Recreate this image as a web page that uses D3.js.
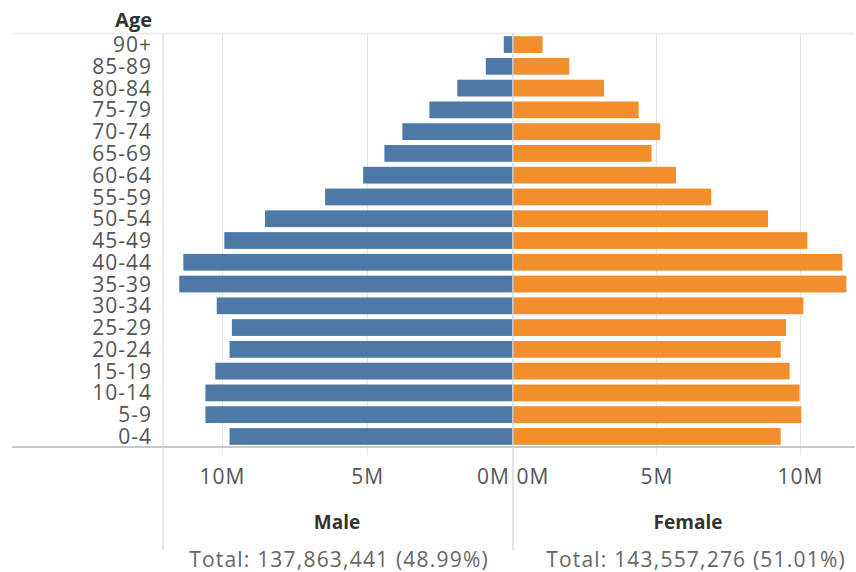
<!DOCTYPE html>
<html>
<head>
<meta charset="utf-8">
<script src="https://cdn.jsdelivr.net/npm/d3@7"></script>
<style>
  body { margin: 0; background: #fff; }
  svg { display: block; font-family: "Open Sans", sans-serif; }
</style>
</head>
<body>
<svg width="856" height="572"></svg>
<script>
window.onload = () => {

  const ages = ['90+', '85-89', '80-84', '75-79', '70-74', '65-69', '60-64', '55-59', '50-54',
    '45-49', '40-44', '35-39', '30-34', '25-29', '20-24', '15-19', '10-14', '5-9', '0-4'];
  const male = [0.30, 0.92, 1.90, 2.86, 3.79, 4.41, 5.14, 6.45, 8.52,
    9.92, 11.33, 11.47, 10.18, 9.66, 9.74, 10.23, 10.57, 10.57, 9.74].map(v => v * 1e6);
  const female = [1.03, 1.96, 3.17, 4.38, 5.13, 4.83, 5.68, 6.91, 8.89,
    10.26, 11.48, 11.62, 10.12, 9.52, 9.33, 9.64, 9.99, 10.05, 9.33].map(v => v * 1e6);
  const ticks = [0, 5e6, 10e6];
  const totals = ['Total: 137,863,441 (48.99%)', 'Total: 143,557,276 (51.01%)'];

  const top = 34;
  const bottom = 447;
  const left = 163;
  const mid = 512.5;
  const right = 855;

  const svg = d3.select('svg');

  const y = d3.scaleBand().domain(ages).range([top, bottom]).paddingInner(0.23).paddingOuter(0.1);
  const xMale = d3.scaleLinear().domain([0, 12.03e6]).range([mid, left]);
  const xFemale = d3.scaleLinear().domain([0, 11.92e6]).range([mid + 0.5, right]);

  const fmt = d => (d / 1e6) + 'M';

  // gridlines
  [xMale, xFemale].forEach(x => {
    svg.append('g')
      .selectAll('line')
      .data(ticks.filter(t => t > 0))
      .enter()
      .append('line')
      .attr('x1', d => Math.round(x(d)) + 0.5)
      .attr('x2', d => Math.round(x(d)) + 0.5)
      .attr('y1', top)
      .attr('y2', bottom + 8)
      .attr('stroke', '#e6e6e6')
      .attr('stroke-width', 1);
  });

  // bars
  svg.append('g')
    .selectAll('rect')
    .data(ages)
    .enter()
    .append('rect')
    .attr('x', (d, i) => xMale(male[i]))
    .attr('y', d => y(d))
    .attr('width', (d, i) => xMale(0) - xMale(male[i]))
    .attr('height', y.bandwidth())
    .attr('fill', '#4e79a7');

  svg.append('g')
    .selectAll('rect')
    .data(ages)
    .enter()
    .append('rect')
    .attr('x', xFemale(0))
    .attr('y', d => y(d))
    .attr('width', (d, i) => xFemale(female[i]) - xFemale(0))
    .attr('height', y.bandwidth())
    .attr('fill', '#f28e2b');

  // frame lines
  svg.append('line').attr('x1', 12).attr('x2', right).attr('y1', top - 0.5).attr('y2', top - 0.5)
    .attr('stroke', '#ececec').attr('stroke-width', 1.5);
  svg.append('line').attr('x1', 12).attr('x2', right).attr('y1', bottom).attr('y2', bottom)
    .attr('stroke', '#c8c8c8').attr('stroke-width', 2);
  svg.append('line').attr('x1', left).attr('x2', left).attr('y1', top).attr('y2', 550)
    .attr('stroke', '#d9d9d9').attr('stroke-width', 1.2);
  svg.append('line').attr('x1', mid + 0.5).attr('x2', mid + 0.5).attr('y1', top).attr('y2', 550)
    .attr('stroke', '#d0d0d0').attr('stroke-width', 1.2);

  // age labels
  svg.append('text')
    .attr('x', 152).attr('y', 27)
    .attr('text-anchor', 'end')
    .attr('font-size', 20).attr('font-weight', 'bold').attr('fill', '#333')
    .text('Age');

  svg.append('g')
    .selectAll('text')
    .data(ages)
    .enter()
    .append('text')
    .attr('x', 152)
    .attr('y', d => y(d) + y.bandwidth() / 2)
    .attr('dy', '0.36em')
    .attr('text-anchor', 'end')
    .attr('font-size', 21)
    .attr('letter-spacing', 1)
    .attr('fill', '#555')
    .text(d => d);

  // axes
  const axisMale = svg.append('g')
    .attr('transform', 'translate(0,' + bottom + ')')
    .call(d3.axisBottom(xMale).tickValues(ticks).tickFormat(fmt).tickSize(0).tickPadding(22));
  const axisFemale = svg.append('g')
    .attr('transform', 'translate(0,' + bottom + ')')
    .call(d3.axisBottom(xFemale).tickValues(ticks).tickFormat(fmt).tickSize(0).tickPadding(22));

  [axisMale, axisFemale].forEach(a => {
    a.select('.domain').remove();
    a.selectAll('text').attr('font-size', 21).attr('letter-spacing', 1).attr('fill', '#555')
      .attr('font-family', '"Open Sans", sans-serif');
  });
  axisMale.selectAll('text').filter(d => d === 0).attr('text-anchor', 'end').attr('dx', -3);
  axisFemale.selectAll('text').filter(d => d === 0).attr('text-anchor', 'start').attr('dx', 3);

  // titles and totals
  svg.append('text')
    .attr('x', 337).attr('y', 529)
    .attr('text-anchor', 'middle').attr('font-size', 19).attr('font-weight', 'bold').attr('fill', '#333')
    .text('Male');
  svg.append('text')
    .attr('x', 688).attr('y', 529)
    .attr('text-anchor', 'middle').attr('font-size', 19).attr('font-weight', 'bold').attr('fill', '#333')
    .text('Female');

  svg.append('text')
    .attr('x', 339).attr('y', 567)
    .attr('text-anchor', 'middle').attr('font-size', 21).attr('letter-spacing', 1.2).attr('fill', '#666')
    .text(totals[0]);
  svg.append('text')
    .attr('x', 696).attr('y', 567)
    .attr('text-anchor', 'middle').attr('font-size', 21).attr('letter-spacing', 1.2).attr('fill', '#666')
    .text(totals[1]);

};
</script>
</body>
</html>
